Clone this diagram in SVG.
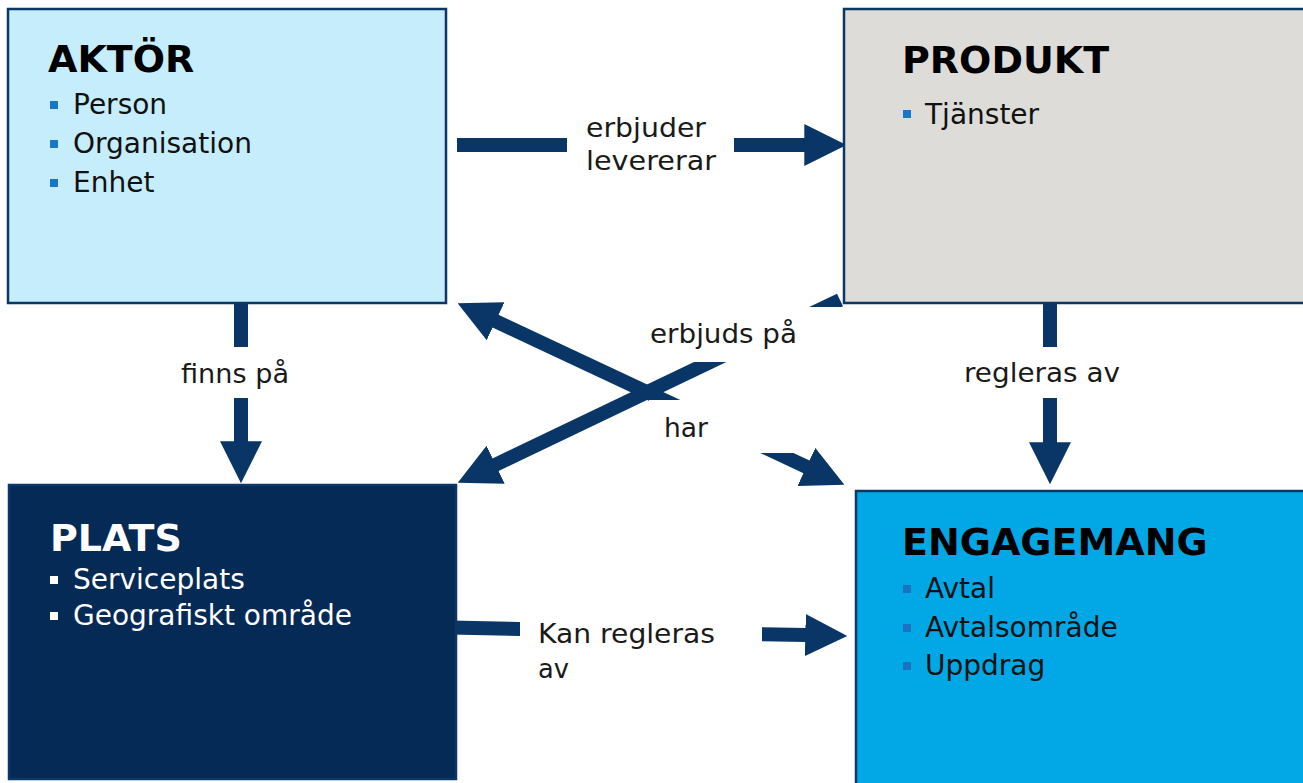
<svg xmlns="http://www.w3.org/2000/svg" width="1303" height="783" viewBox="0 0 1303 783">
<style>
.box{stroke:#0b3766;stroke-width:2.5}
.title{font-family:"DejaVu Sans","Liberation Sans",sans-serif;font-weight:bold;font-size:38px;fill:#000}
.item{font-family:"DejaVu Sans","Liberation Sans",sans-serif;font-size:28px;fill:#111}
.lbl{font-family:"DejaVu Sans","Liberation Sans",sans-serif;font-size:27px;fill:#1a1a1a}
.conn{stroke:#093567;stroke-width:14;fill:none}
.bg{fill:#fff}
.bul{fill:#1878c8}
</style>
<defs>
<marker id="ah" viewBox="0 0 3 3" markerWidth="3" markerHeight="3" refX="0.05" refY="1.5" orient="auto-start-reverse">
<path d="M0,0 L3,1.5 L0,3 z" fill="#093567"/>
</marker>
</defs>
<rect width="1303" height="783" fill="#fff"/>
<g id="connectors">
<line class="conn" x1="457" y1="145" x2="805" y2="145" marker-end="url(#ah)"/>
<line class="conn" x1="241" y1="298" x2="241" y2="442" marker-end="url(#ah)"/>
<line class="conn" x1="1050" y1="298" x2="1050" y2="443" marker-end="url(#ah)"/>
<line class="conn" x1="450" y1="627.4" x2="806" y2="635.1" marker-end="url(#ah)"/>
<line class="conn" x1="840" y1="300" x2="495" y2="465" marker-end="url(#ah)"/>
<line class="conn" x1="495" y1="320.9" x2="807" y2="467.2" marker-start="url(#ah)" marker-end="url(#ah)"/>
<g id="labels">
<rect class="bg" x="567" y="110" width="167" height="70"/>
<text class="lbl" x="586" y="137" textLength="120" lengthAdjust="spacingAndGlyphs">erbjuder</text>
<text class="lbl" x="586" y="170" textLength="130" lengthAdjust="spacingAndGlyphs">levererar</text>
<rect class="bg" x="170" y="347" width="135" height="51"/>
<text class="lbl" x="181" y="383" textLength="108" lengthAdjust="spacingAndGlyphs">finns på</text>
<rect class="bg" x="955" y="347" width="175" height="51"/>
<text class="lbl" x="964" y="382" textLength="156" lengthAdjust="spacingAndGlyphs">regleras av</text>
<rect class="bg" x="520" y="605" width="242" height="85"/>
<text class="lbl" x="538" y="643" textLength="177" lengthAdjust="spacingAndGlyphs">Kan regleras</text>
<text class="lbl" x="538" y="678" textLength="31" lengthAdjust="spacingAndGlyphs">av</text>
<rect class="bg" x="640" y="307" width="210" height="55"/>
<text class="lbl" x="650" y="343" textLength="147" lengthAdjust="spacingAndGlyphs">erbjuds på</text>
<rect class="bg" x="649" y="400" width="151" height="53"/>
<text class="lbl" x="664" y="437" textLength="44" lengthAdjust="spacingAndGlyphs">har</text>
</g>
</g>
<g id="aktor">
<rect class="box" x="8" y="9" width="438" height="294" fill="#c6edfb"/>
<text class="title" x="48" y="72">AKTÖR</text>
<rect class="bul" x="50" y="101" width="8" height="8"/>
<text class="item" x="73" y="114">Person</text>
<rect class="bul" x="50" y="140" width="8" height="8"/>
<text class="item" x="73" y="153">Organisation</text>
<rect class="bul" x="50" y="179" width="8" height="8"/>
<text class="item" x="73" y="192">Enhet</text>
</g>
<g id="produkt">
<rect class="box" x="844" y="9" width="470" height="294" fill="#dddcd8"/>
<text class="title" x="902" y="73">PRODUKT</text>
<rect class="bul" x="903" y="110" width="8" height="8"/>
<text class="item" x="925" y="124">Tjänster</text>
</g>
<g id="plats">
<rect class="box" x="9" y="485" width="447" height="294" fill="#052a56"/>
<text class="title" x="50" y="551" style="fill:#fff">PLATS</text>
<rect x="50" y="576" width="8" height="8" fill="#fff"/>
<text class="item" x="73" y="589" style="fill:#fff">Serviceplats</text>
<rect x="50" y="612" width="8" height="8" fill="#fff"/>
<text class="item" x="73" y="625" style="fill:#fff">Geografiskt område</text>
</g>
<g id="engagemang">
<rect class="box" x="856" y="491" width="470" height="310" fill="#02a8e6"/>
<text class="title" x="902" y="555">ENGAGEMANG</text>
<rect x="903" y="585" width="8" height="8" fill="#1a72c0"/>
<text class="item" x="925" y="598">Avtal</text>
<rect x="903" y="624" width="8" height="8" fill="#1a72c0"/>
<text class="item" x="925" y="637">Avtalsområde</text>
<rect x="903" y="662" width="8" height="8" fill="#1a72c0"/>
<text class="item" x="925" y="675">Uppdrag</text>
</g>
</svg>
